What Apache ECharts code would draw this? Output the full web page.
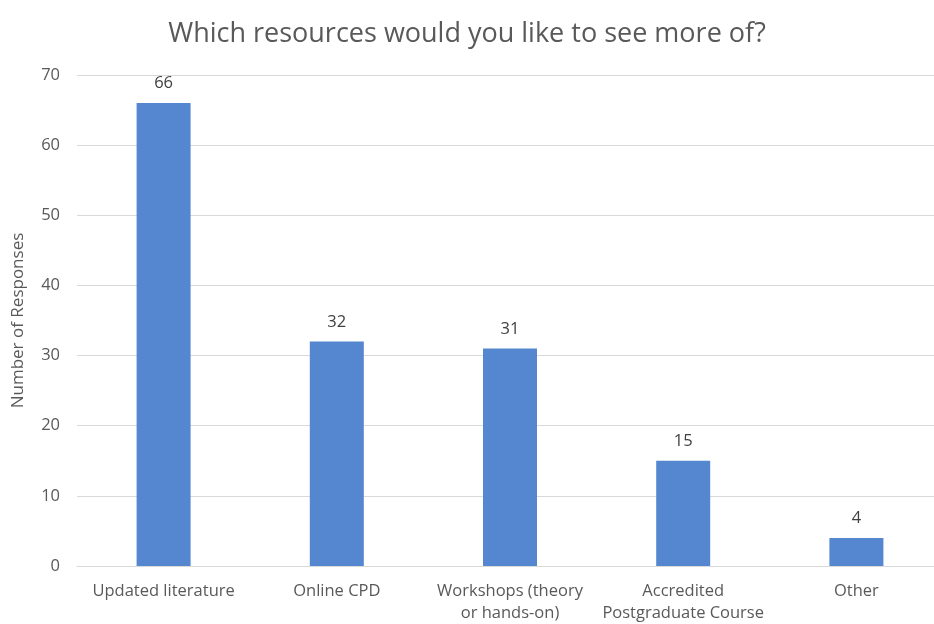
<!DOCTYPE html>
<html>
<head>
<meta charset="utf-8">
<script src="https://cdn.jsdelivr.net/npm/echarts@6/dist/echarts.min.js"></script>
<style>
  html, body { margin: 0; padding: 0; background: #fff; }
  #chart { width: 934px; height: 624px; }
</style>
</head>
<body>
<div id="chart"></div>
<script>
const categories = [
  "Updated literature",
  "Online CPD",
  "Workshops (theory\nor hands-on)",
  "Accredited\nPostgraduate Course",
  "Other"
];
const responses = [66, 32, 31, 15, 4];

const chart = echarts.init(document.getElementById("chart"));
const textColor = "#595959";
const font = "'Open Sans', 'Noto Sans', sans-serif";

chart.setOption({
  backgroundColor: "#fff",
  animation: false,
  title: {
    text: "Which resources would you like to see more of?",
    left: "center",
    top: 16,
    textStyle: {
      color: textColor,
      fontFamily: font,
      fontSize: 27,
      fontWeight: "normal"
    }
  },
  grid: {
    left: 77,
    top: 75,
    width: 866,
    height: 491,
    outerBoundsMode: "none",
    containLabel: false
  },
  xAxis: {
    type: "category",
    data: categories,
    axisLine: { lineStyle: { color: "#d9d9d9" } },
    axisTick: { show: false },
    axisLabel: {
      color: textColor,
      fontFamily: font,
      fontSize: 16.5,
      margin: 14,
      lineHeight: 22,
      interval: 0
    }
  },
  yAxis: {
    type: "value",
    min: 0,
    max: 70,
    interval: 10,
    name: "Number of Responses",
    nameLocation: "middle",
    nameGap: 50,
    nameTextStyle: {
      color: textColor,
      fontFamily: font,
      fontSize: 17
    },
    axisLine: { show: false },
    axisTick: { show: false },
    axisLabel: {
      color: textColor,
      fontFamily: font,
      fontSize: 16.5,
      margin: 17
    },
    splitLine: { lineStyle: { color: "#d9d9d9" } }
  },
  series: [
    {
      type: "bar",
      data: responses,
      barWidth: 54,
      itemStyle: { color: "#5586d0" },
      label: {
        show: true,
        position: "top",
        distance: 11,
        color: "#404040",
        fontFamily: font,
        fontSize: 16.5
      }
    }
  ]
});
</script>
</body>
</html>
